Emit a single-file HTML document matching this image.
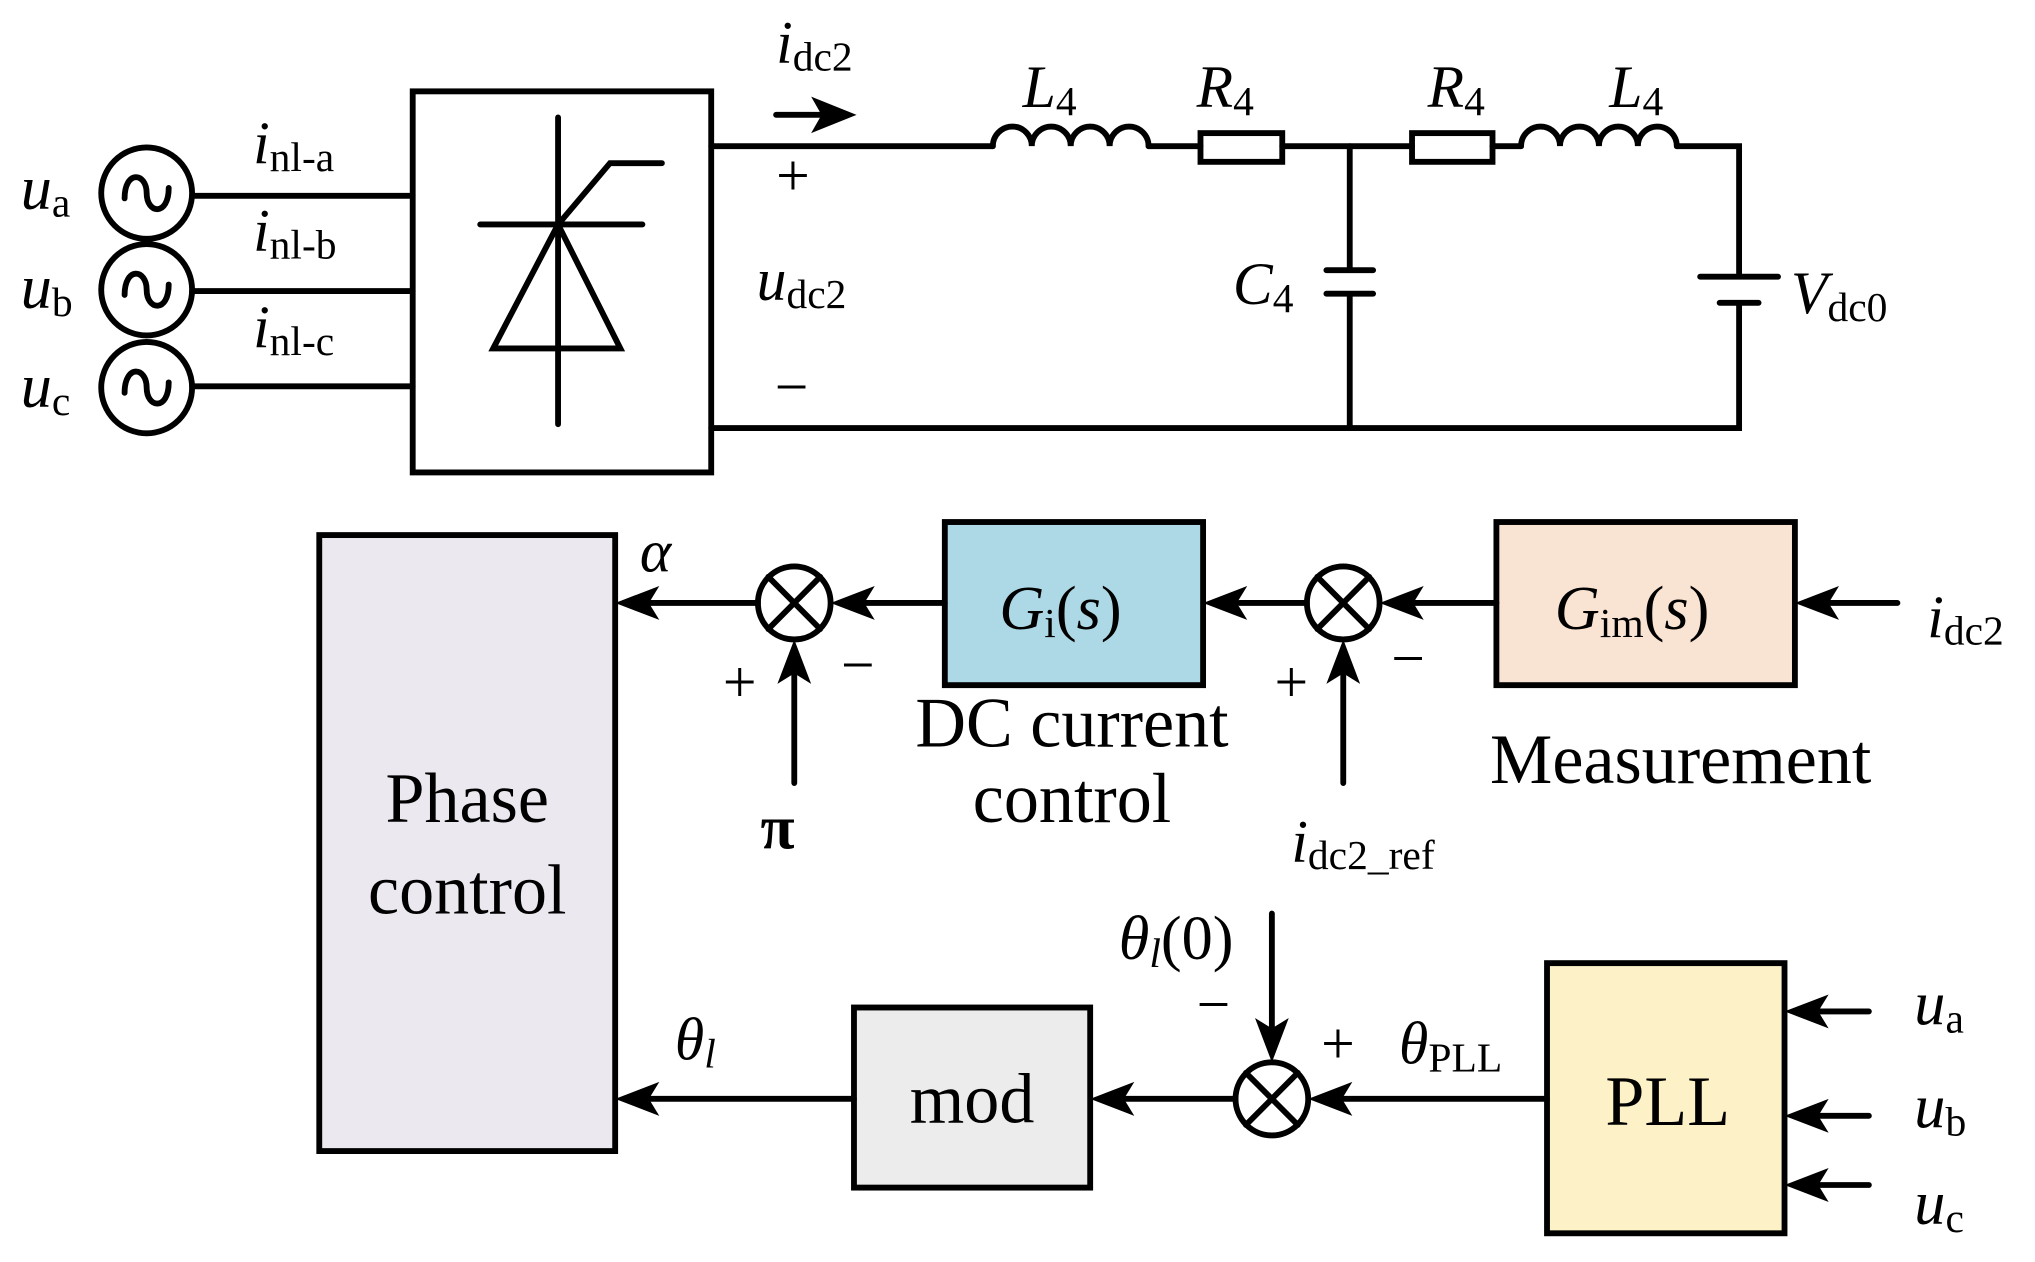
<!DOCTYPE html>
<html><head><meta charset="utf-8"><style>
html,body{margin:0;padding:0;background:#fff;}
svg{display:block;}
text{font-family:"Liberation Serif",serif;fill:#000;}
.i{font-style:italic;}
</style></head><body>
<svg width="2035" height="1262" viewBox="0 0 1568 967" preserveAspectRatio="none" xmlns="http://www.w3.org/2000/svg">
<g stroke="#000" stroke-width="4.5" fill="none" stroke-linecap="round">
<circle cx="113" cy="148" r="35"/><circle cx="113" cy="222" r="35"/><circle cx="113" cy="297" r="35"/>
<path d="M96 152 C96 130,113 132,113 148 C113 164,130 166,130 144"/>
<path d="M96 226 C96 204,113 206,113 222 C113 238,130 240,130 218"/>
<path d="M96 301 C96 279,113 281,113 297 C113 313,130 315,130 293"/>
<path d="M148 150H318M148 223H318M148 296H318"/>
<rect x="318" y="70" width="230" height="292"/>
<path d="M430 90V325M370 172H495M430 172L470 125H510"/>
<path d="M430 172L380 267H478Z"/>
<path d="M548 112H765"/>
<path d="M765 112 a15 15 0 0 1 30 0 a15 15 0 0 1 30 0 a15 15 0 0 1 30 0 a15 15 0 0 1 30 0"/>
<path d="M885 112H925"/>
<rect x="925" y="102" width="63" height="22"/>
<path d="M988 112H1088"/>
<rect x="1088" y="102" width="62" height="22"/>
<path d="M1150 112H1172"/>
<path d="M1172 112 a15 15 0 0 1 30 0 a15 15 0 0 1 30 0 a15 15 0 0 1 30 0 a15 15 0 0 1 30 0"/>
<path d="M1292 112H1340V212M1310 212H1370M1325 232H1355M1340 232V328H548"/>
<path d="M1040 112V207M1022 207H1058M1022 225H1058M1040 225V328"/>
<path d="M598 88H640"/>
<rect x="246" y="410" width="228" height="472" fill="#ebe8f0"/>
<rect x="728" y="400" width="199" height="125" fill="#add8e6"/>
<rect x="1153" y="400" width="230" height="125" fill="#f9e3d3"/>
<rect x="658" y="772" width="182" height="138" fill="#ececec"/>
<rect x="1192" y="738" width="183" height="207" fill="#fdf1c8"/>
<circle cx="612" cy="462" r="28"/><path d="M592 442L632 482M632 442L592 482"/>
<circle cx="1035" cy="462" r="28"/><path d="M1015 442L1055 482M1055 442L1015 482"/>
<circle cx="980" cy="842" r="28"/><path d="M960 822L1000 862M1000 822L960 862"/>
<path d="M584 462H500M728 462H665M612 600V517M1007 462H955M1153 462H1090M1035 600V517M1462 462H1410"/>
<path d="M980 700V790M1192 842H1035M952 842H866M658 842H500"/>
<path d="M1440 775H1402M1440 855H1402M1440 908H1402"/>
</g>
<g fill="#000">
<polygon points="660,88 625,74 633,88 625,102"/>
<polygon points="474,462 508,449 500,462 508,475"/>
<polygon points="640,462 674,449 666,462 674,475"/>
<polygon points="612,490 599,524 612,516 625,524"/>
<polygon points="927,462 961,449 953,462 961,475"/>
<polygon points="1063,462 1097,449 1089,462 1097,475"/>
<polygon points="1035,490 1022,524 1035,516 1048,524"/>
<polygon points="1383,462 1417,449 1409,462 1417,475"/>
<polygon points="980,814 967,780 980,788 993,780"/>
<polygon points="1008,842 1042,829 1034,842 1042,855"/>
<polygon points="840,842 874,829 866,842 874,855"/>
<polygon points="474,842 508,829 500,842 508,855"/>
<polygon points="1375,775 1409,762 1401,775 1409,788"/>
<polygon points="1375,855 1409,842 1401,855 1409,868"/>
<polygon points="1375,908 1409,895 1401,908 1409,921"/>
</g>
<g font-size="46">
<text x="16" y="160" class="i" font-size="48">u<tspan font-size="32" font-style="normal" dy="6">a</tspan></text>
<text x="16" y="236" class="i" font-size="48">u<tspan font-size="32" font-style="normal" dy="6">b</tspan></text>
<text x="16" y="312" class="i" font-size="48">u<tspan font-size="32" font-style="normal" dy="6">c</tspan></text>
<text x="195" y="125" class="i">i<tspan font-size="32" font-style="normal" dy="6">nl-a</tspan></text>
<text x="195" y="192" class="i">i<tspan font-size="32" font-style="normal" dy="6">nl-b</tspan></text>
<text x="195" y="266" class="i">i<tspan font-size="32" font-style="normal" dy="6">nl-c</tspan></text>
<text x="598" y="48" class="i">i<tspan font-size="32" font-style="normal" dy="6">dc2</tspan></text>
<text x="598" y="150">+</text>
<text x="583" y="230" class="i">u<tspan font-size="32" font-style="normal" dy="6">dc2</tspan></text>
<text x="597" y="312">−</text>
<text x="788" y="82" class="i">L<tspan font-size="32" font-style="normal" dy="6">4</tspan></text>
<text x="922" y="82" class="i">R<tspan font-size="32" font-style="normal" dy="6">4</tspan></text>
<text x="1100" y="82" class="i">R<tspan font-size="32" font-style="normal" dy="6">4</tspan></text>
<text x="1240" y="82" class="i">L<tspan font-size="32" font-style="normal" dy="6">4</tspan></text>
<text x="950" y="233" class="i">C<tspan font-size="32" font-style="normal" dy="6">4</tspan></text>
<text x="1380" y="240" class="i">V<tspan font-size="32" font-style="normal" dy="6">dc0</tspan></text>
<text x="493" y="438" class="i">α</text>
<text x="557" y="538">+</text>
<text x="648" y="525">−</text>
<text x="586" y="650" font-weight="bold" font-size="48">π</text>
<text x="982" y="538">+</text>
<text x="1072" y="520">−</text>
<text x="770" y="482" class="i" font-size="48">G<tspan font-size="32" font-style="normal" dy="6">i</tspan><tspan font-style="normal" dy="-6">(</tspan>s<tspan font-style="normal">)</tspan></text>
<text x="1198" y="482" class="i" font-size="48">G<tspan font-size="32" font-style="normal" dy="6">im</tspan><tspan font-style="normal" dy="-6">(</tspan>s<tspan font-style="normal">)</tspan></text>
<text x="1485" y="488" class="i">i<tspan font-size="32" font-style="normal" dy="6">dc2</tspan></text>
<text x="995" y="660" class="i">i<tspan font-size="32" font-style="normal" dy="6">dc2_ref</tspan></text>
<text x="862" y="735" class="i" font-size="48">θ<tspan font-size="32" dy="6">l</tspan><tspan font-style="normal" dy="-6">(0)</tspan></text>
<text x="922" y="785">−</text>
<text x="1018" y="815">+</text>
<text x="1078" y="815" class="i">θ<tspan font-size="32" font-style="normal" dy="6">PLL</tspan></text>
<text x="520" y="812" class="i">θ<tspan font-size="32" dy="6">l</tspan></text>
<text x="1475" y="785" class="i" font-size="48">u<tspan font-size="32" font-style="normal" dy="6">a</tspan></text>
<text x="1475" y="864" class="i" font-size="48">u<tspan font-size="32" font-style="normal" dy="6">b</tspan></text>
<text x="1475" y="938" class="i" font-size="48">u<tspan font-size="32" font-style="normal" dy="6">c</tspan></text>
</g>
<g font-size="54" text-anchor="middle">
<text x="360" y="630">Phase</text>
<text x="360" y="700">control</text>
<text x="826" y="572">DC current</text>
<text x="826" y="630">control</text>
<text x="1295" y="600">Measurement</text>
<text x="749" y="860">mod</text>
<text x="1285" y="862">PLL</text>
</g>
</svg>
</body></html>
